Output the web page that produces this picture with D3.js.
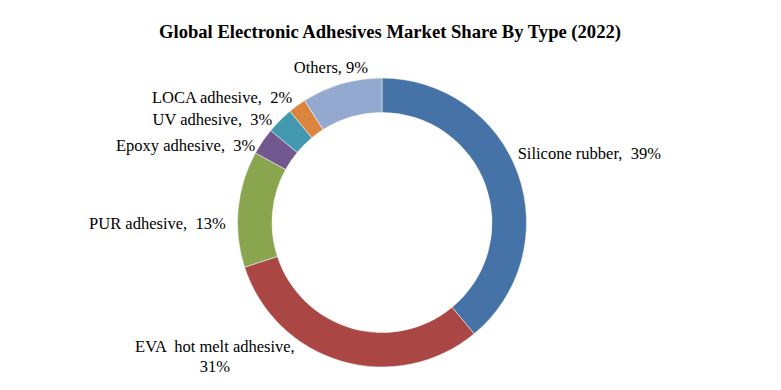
<!DOCTYPE html>
<html>
<head>
<meta charset="utf-8">
<script src="https://cdn.jsdelivr.net/npm/d3@7"></script>
<style>
  body { margin: 0; background: #fff; }
  svg { display: block; }
  .lbl { white-space: pre; }
</style>
</head>
<body>
<div id="chart"></div>
<script>
// data
var types = ["Silicone rubber", "EVA  hot melt adhesive", "PUR adhesive", "Epoxy adhesive", "UV adhesive", "LOCA adhesive", "Others"];
var shares = [39, 31, 13, 3, 3, 2, 9];
var palette = ["#4572A7", "#AA4643", "#89A54E", "#71588F", "#4198AF", "#DB843D", "#93A9CF"];

var width = 781, height = 390;
var cx = 382, cy = 222.5;
var outerR = 144.5, innerR = 110;

var svg = d3.select("#chart")
    .append("svg")
    .attr("width", width)
    .attr("height", height);

//----- title -----
svg.append("text")
    .attr("x", 390)
    .attr("y", 38)
    .attr("text-anchor", "middle")
    .style("font-family", "'Liberation Serif', 'Times New Roman', serif")
    .style("font-weight", "700")
    .style("font-size", "18.6px")
    .style("fill", "#000")
    .text("Global Electronic Adhesives Market Share By Type (2022)");

var rows = types.map(function(t, i) { return { name: t, value: shares[i], color: palette[i] }; });

var pie = d3.pie()
    .sort(null)
    .value(function(d) { return d.value; });

var arc = d3.arc()
    .innerRadius(innerR)
    .outerRadius(outerR);

var labelArc = d3.arc()
    .innerRadius(158)
    .outerRadius(158);

var g = svg.append("g")
    .attr("transform", "translate(" + cx + "," + cy + ")");

g.selectAll(".slice")
    .data(pie(rows))
    .join("path")
    .attr("class", "slice")
    .attr("d", arc)
    .attr("fill", function(d) { return d.data.color; })
    .attr("stroke", "#fff")
    .attr("stroke-width", 0.5);

//----- labels (Excel style placement, nudged off the label arc) -----
var nudge = {
    "Silicone rubber": [-13, -10, "start"],
    "EVA  hot melt adhesive": [-123, -22, "middle"],
    "PUR adhesive": [1, 21, "end"],
    "Epoxy adhesive": [4, 17, "end"],
    "UV adhesive": [2, 14, "end"],
    "LOCA adhesive": [3, 8, "end"],
    "Others": [-7, 2, "middle"]
};

var labels = g.selectAll(".lbl")
    .data(pie(rows))
    .join("text")
    .attr("class", "lbl")
    .style("font-family", "'Liberation Serif', 'Times New Roman', serif")
    .style("font-size", "16.5px")
    .style("fill", "#000")
    .attr("text-anchor", function(d) { return nudge[d.data.name][2]; })
    .attr("transform", function(d) {
        var p = labelArc.centroid(d);
        var n = nudge[d.data.name];
        return "translate(" + (p[0] + n[0]) + "," + (p[1] + n[1]) + ")";
    });

labels.each(function(d) {
    var t = d3.select(this);
    if (d.data.name === "EVA  hot melt adhesive") {
        t.append("tspan").attr("x", 0).attr("y", 0).text(d.data.name + ",");
        t.append("tspan").attr("x", 0).attr("y", 20).text(d.data.value + "%");
    } else if (d.data.name === "Others") {
        t.text(d.data.name + ", " + d.data.value + "%");
    } else {
        t.text(d.data.name + ",  " + d.data.value + "%");
    }
});
</script>
</body>
</html>
